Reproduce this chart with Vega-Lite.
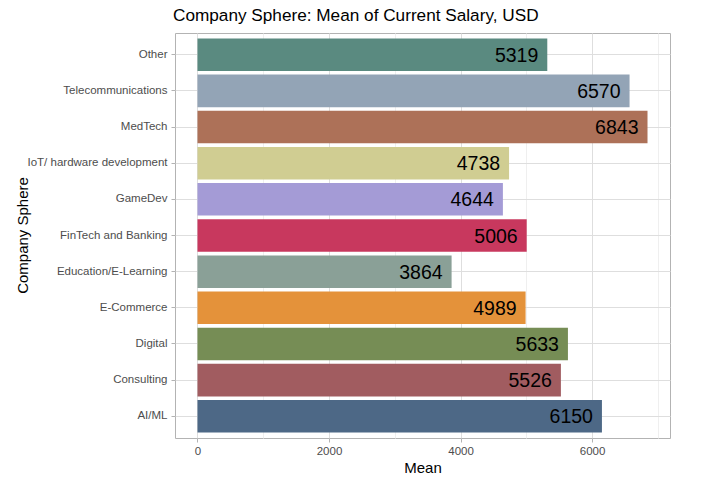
{
  "$schema": "https://vega.github.io/schema/vega-lite/v6.json",
  "width": 495,
  "height": 405,
  "autosize": {"type": "none"},
  "padding": {"left": 175, "top": 33, "right": 42, "bottom": 43},
  "background": "white",
  "config": {
    "font": "Liberation Sans",
    "view": {"stroke": "#b3b3b3", "strokeWidth": 1}
  },
  "title": {
    "text": "Company Sphere: Mean of Current Salary, USD",
    "anchor": "start",
    "frame": "group",
    "fontSize": 17.2,
    "fontWeight": "normal",
    "color": "black",
    "dx": -2,
    "offset": 9
  },
  "data": {
    "values": [
      {"sphere": "Other", "mean": 5319},
      {"sphere": "Telecommunications", "mean": 6570},
      {"sphere": "MedTech", "mean": 6843},
      {"sphere": "IoT/ hardware development", "mean": 4738},
      {"sphere": "GameDev", "mean": 4644},
      {"sphere": "FinTech and Banking", "mean": 5006},
      {"sphere": "Education/E-Learning", "mean": 3864},
      {"sphere": "E-Commerce", "mean": 4989},
      {"sphere": "Digital", "mean": 5633},
      {"sphere": "Consulting", "mean": 5526},
      {"sphere": "AI/ML", "mean": 6150}
    ]
  },
  "encoding": {
    "y": {
      "field": "sphere",
      "type": "nominal",
      "sort": ["Other", "Telecommunications", "MedTech", "IoT/ hardware development", "GameDev", "FinTech and Banking", "Education/E-Learning", "E-Commerce", "Digital", "Consulting", "AI/ML"],
      "scale": {"paddingInner": 0.1, "paddingOuter": 0.15},
      "axis": {
        "title": "Company Sphere",
        "titleFontSize": 15,
        "titleFontWeight": "normal",
        "titleColor": "black",
        "titleX": -153,
        "titleY": 202,
        "titleAlign": "center",
        "titleBaseline": "middle",
        "titleAngle": -90,
        "labelFontSize": 11.5,
        "labelColor": "#4d4d4d",
        "labelPadding": 4,
        "tickColor": "#b3b3b3",
        "tickSize": 4,
        "bandPosition": 0.5,
        "grid": true,
        "gridColor": "#dedede",
        "domain": false
      }
    },
    "x": {
      "field": "mean",
      "type": "quantitative",
      "scale": {"domain": [-342, 7185], "nice": false, "zero": false},
      "axis": {
        "title": "Mean",
        "titleFontSize": 15,
        "titleFontWeight": "normal",
        "titleColor": "black",
        "titlePadding": 4,
        "values": [0, 1000, 2000, 3000, 4000, 5000, 6000, 7000],
        "labelExpr": "datum.value % 2000 === 0 ? datum.label : ''",
        "format": "d",
        "labelFontSize": 11.5,
        "labelColor": "#4d4d4d",
        "labelPadding": 3,
        "tickSize": 4,
        "tickColor": {"condition": {"test": "datum.value % 2000 === 0", "value": "#b3b3b3"}, "value": "transparent"},
        "grid": true,
        "gridColor": {"condition": {"test": "datum.value % 2000 === 0", "value": "#dedede"}, "value": "#efefef"},
        "domain": false
      }
    }
  },
  "layer": [
    {
      "mark": {"type": "bar", "opacity": 1},
      "encoding": {
        "color": {
          "field": "sphere",
          "type": "nominal",
          "legend": null,
          "scale": {
            "domain": ["Other", "Telecommunications", "MedTech", "IoT/ hardware development", "GameDev", "FinTech and Banking", "Education/E-Learning", "E-Commerce", "Digital", "Consulting", "AI/ML"],
            "range": ["#5a8a80", "#93a4b6", "#ad7158", "#d0cd92", "#a49bd6", "#c8385e", "#8aa097", "#e4923a", "#768d55", "#a15c60", "#4d6886"]
          }
        }
      }
    },
    {
      "mark": {"type": "text", "align": "right", "baseline": "middle", "dx": -9, "dy": 1, "fontSize": 19.5, "color": "black"},
      "encoding": {
        "text": {"field": "mean", "type": "quantitative", "format": "d"}
      }
    }
  ]
}
